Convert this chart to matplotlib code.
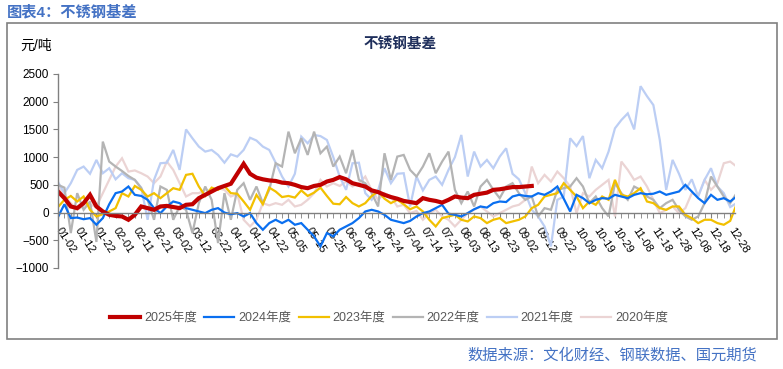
import numpy as np
import matplotlib.pyplot as plt
from matplotlib.patches import Rectangle
from matplotlib.ticker import MultipleLocator

plt.rcParams['font.family'] = ['Liberation Sans', 'Noto Sans CJK SC', 'DejaVu Sans']

# basis data, one value every third of a label interval
basis_2025 = [380, 260, 110, 80, 170, 320, 110, 20, -40, -60,
              -70, -130, -40, 110, 80, 50, 110, 120, 100, 80,
              140, 150, 260, 320, 380, 440, 480, 520, 700, 880,
              700, 630, 600, 580, 570, 540, 530, 500, 460, 440,
              480, 500, 560, 590, 640, 600, 530, 500, 470, 400,
              370, 320, 280, 250, 210, 190, 170, 260, 230, 210,
              180, 230, 290, 270, 260, 320, 340, 360, 410, 420,
              440, 460, 460, 470, 480]

basis_2024 = [-80, 150, -100, -90, -120, -100, -220, -100, 150, 350,
              380, 470, 320, 300, 230, 80, -10, 110, 200, 170,
              80, 50, 20, -10, 50, 80, 0, -30, -10, -70,
              -10, -190, -310, -190, -130, -190, -130, -220, -190, -310,
              -430, -610, -370, -430, -310, -250, -190, -100, 20, 50,
              20, -40, -130, -160, -190, -150, -70, -10, 20, 80,
              140, -20, -40, -70, -10, 60, 110, 90, 170, 200,
              190, 290, 320, 300, 290, 350, 320, 380, 470, 250,
              20, 320, 260, 170, 230, 260, 250, 320, 290, 260,
              320, 350, 330, 340, 380, 320, 350, 380, 500, 380,
              260, 170, 320, 230, 260, 200, 290]

basis_2023 = [100, 230, 300, 200, 290, 50, -70, -30, 20, 80,
              350, 290, 480, 410, 290, 350, 260, 350, 440, 410,
              680, 700, 470, 300, 450, 410, 480, 350, 340, 200,
              50, 320, 150, 450, 380, 280, 300, 270, 400, 300,
              360, 450, 300, 160, 150, 280, 170, 110, 170, 300,
              380, 250, 170, 230, 150, 60, 110, 20, -130, -250,
              -100, -70, -40, -130, -160, -70, -100, -190, -130, -100,
              -190, -160, -130, -70, 80, 140, 290, 320, 350, 530,
              410, 290, 80, 200, 140, 290, 230, 590, 320, 290,
              350, 440, 200, 170, 80, 50, 110, 110, -40, -100,
              -190, -130, -130, -190, -220, -150, 150]

basis_2022 = [500, 450, -370, 350, 50, 200, -530, 1280, 920, 830,
              750, 660, 590, 440, 230, -130, 470, 410, -130, 110,
              50, -370, 170, 470, 230, -550, 350, -130, 410, 530,
              230, 470, 170, 410, 890, 830, 1460, 1070, 1340, 1040,
              1460, 1070, 1190, 830, 1010, 710, 1130, 590, 530, 350,
              110, 1070, 590, 1010, 1040, 770, 650, 830, 1070, 710,
              920, 1100, 410, 170, 380, 110, 470, 590, 410, 260,
              470, 530, 350, 230, 290, -70, 80, 50, 410, 440,
              470, 620, 470, 170, 290, 80, -70, 530, 350, 230,
              470, 410, 290, 230, 80, 170, 230, 50, -70, -130,
              -70, 170, 650, 470, 290, 170, 350]

basis_2021 = [550, 350, 530, 770, 830, 700, 950, 710, 800, 600,
              710, 620, 590, 450, -130, 590, 890, 900, 1130, 770,
              1500, 1340, 1190, 1100, 1130, 1040, 900, 1050, 1010, 1130,
              1350, 1300, 1190, 1130, 900, 650, 470, 700, 1370, 1250,
              1400, 1380, 1310, 1000, 650, 410, 890, 900, 350, 230,
              400, 800, 530, 700, 710, 110, 650, 400, 590, 650,
              500, 770, 1000, 1400, 650, 1100, 830, 950, 800, 1010,
              1160, 700, 600, 350, 50, -70, -250, -610, 230, 290,
              1340, 1200, 1380, 620, 950, 800, 1100, 1520, 1670, 1790,
              1500, 2280, 2100, 1940, 1310, 410, 950, 700, 410, 600,
              290, 590, 800, 470, 350, 100, 170]

basis_2020 = [470, 300, 170, 50, 120, 140, 110, 350, 590, 830,
              980, 740, 760, 710, 650, 530, 650, 920, 770, 530,
              290, 350, 350, 410, 380, 440, 410, 290, 340, -130,
              -250, -130, 170, 130, 170, 140, 230, 110, 140, 230,
              350, 590, 470, 530, 480, 560, 470, 530, 650, 400,
              230, 350, 290, 110, 140, -10, 30, -130, -10, 50,
              -70, -130, -250, -130, -10, 50, 110, 20, -70, -10,
              50, 110, 140, 230, 830, 530, 680, 560, 740, 620,
              470, -10, 350, 290, 410, 500, 590, -70, 920, 770,
              590, 650, 470, 230, -10, 50, 110, -10, 80, 350,
              300, 590, 410, 530, 890, 920, 830]

date_labels = ['01-02', '01-12', '01-22', '02-01', '02-11', '02-21', '03-02', '03-12',
               '03-22', '04-01', '04-12', '04-22', '05-05', '05-15', '05-25', '06-04',
               '06-14', '06-24', '07-04', '07-14', '07-24', '08-03', '08-13', '08-23',
               '09-02', '09-12', '09-22', '10-09', '10-19', '10-29', '11-08', '11-18',
               '11-28', '12-08', '12-18', '12-28']

series = [('2025年度', basis_2025, '#C00000', 3.0),
          ('2024年度', basis_2024, '#0A6FF0', 1.6),
          ('2023年度', basis_2023, '#F2C000', 1.6),
          ('2022年度', basis_2022, '#B4B4B4', 1.6),
          ('2021年度', basis_2021, '#BCCEF4', 1.6),
          ('2020年度', basis_2020, '#EBD4D4', 1.6)]

fig = plt.figure(figsize=(7.83, 3.69), dpi=100)
ax = fig.add_axes([58 / 783, 1 - 268 / 369, 677 / 783, 194 / 369])

# draw oldest first so 2025 ends on top
handles = {}
for name, vals, col, lw in reversed(series):
    x = np.arange(len(vals)) / 3
    line, = ax.plot(x, vals, color=col, lw=lw, solid_joinstyle='miter')
    handles[name] = line

ax.set_xlim(0, 35.25)
ax.set_ylim(-1000, 2500)
ax.yaxis.set_major_locator(MultipleLocator(500))

ax.spines['top'].set_visible(False)
ax.spines['right'].set_visible(False)
ax.spines['bottom'].set_position(('data', 0))
for s in ['left', 'bottom']:
    ax.spines[s].set_color('#808080')
    ax.spines[s].set_linewidth(1.0)

ax.set_xticks(range(len(date_labels)))
ax.set_xticklabels(date_labels, rotation=-57, ha='left', va='center',
                   rotation_mode='anchor', fontsize=8)
ax.xaxis.set_minor_locator(MultipleLocator(1 / 3))
ax.tick_params(axis='x', which='both', length=3.5, color='#808080', pad=8)
ax.tick_params(axis='y', length=3.5, color='#808080', labelsize=8.5, pad=3)

# outer frame and texts
fig.patches.append(Rectangle((7 / 783, 1 - 339 / 369), 770 / 783, 316 / 369,
                             transform=fig.transFigure, fill=False,
                             ec='#808080', lw=1.2))
fig.text(7 / 783, 1 - 12 / 369, '图表4：不锈钢基差', color='#4472C4',
         fontsize=11, fontweight='bold', va='center')
fig.text(20 / 783, 1 - 46 / 369, '元/吨', fontsize=10, va='center')
fig.text(400 / 783, 1 - 44 / 369, '不锈钢基差', color='#1F2F5C',
         fontsize=10.5, fontweight='bold', ha='center', va='center')
fig.text(757 / 783, 1 - 355 / 369, '数据来源：文化财经、钢联数据、国元期货',
         color='#4472C4', fontsize=11, ha='right', va='center')

names = [s[0] for s in series]
leg = fig.legend([handles[n] for n in names], names, loc='center',
                 bbox_to_anchor=(389 / 783, 1 - 318 / 369), ncol=6,
                 frameon=False, fontsize=9, handlelength=2.4,
                 handletextpad=0.3, columnspacing=0.6)
for t in leg.get_texts():
    t.set_color('#595959')

plt.savefig('out.png', dpi=100)
